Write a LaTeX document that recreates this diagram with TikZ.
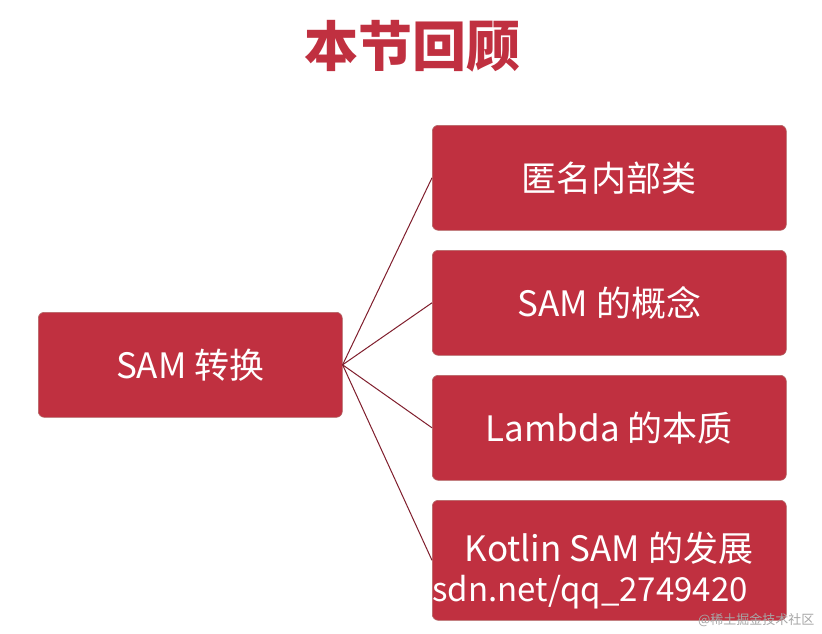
\documentclass[tikz,border=0pt]{standalone}
\usepackage{fontspec}
\setmainfont{Noto Sans CJK SC}
\newfontfamily\cjk{Noto Sans CJK SC}
\begin{document}
\begin{tikzpicture}[x=1pt,y=-1pt,
  box/.style={draw=red!50!black!60,line width=0.6pt,fill={rgb,255:red,192;green,48;blue,64},rounded corners=6pt,text=white,font=\cjk\fontsize{35}{40}\selectfont,anchor=north west,inner sep=0pt},
  link/.style={draw={rgb,255:red,128;green,30;blue,45},line width=1pt}]
\useasboundingbox (0,0) rectangle (822,633);
\fill[white] (0,0) rectangle (822,633);
\node[font=\cjk\bfseries\fontsize{54}{58}\selectfont,text={rgb,255:red,192;green,48;blue,64}] (title) at (412,46) {本节回顾};
\node[box,minimum width=304pt,minimum height=105pt] (sam) at (38,312) {SAM 转换};
\node[box,minimum width=354pt,minimum height=105pt] (b1) at (432,125) {匿名内部类};
\node[box,minimum width=354pt,minimum height=105pt] (b2) at (432,250) {SAM 的概念};
\node[box,minimum width=354pt,minimum height=105pt] (b3) at (432,375) {Lambda 的本质};
\node[box,minimum width=354pt,minimum height=120pt] (b4) at (432,500) {};
\node[font=\cjk\fontsize{35}{40}\selectfont,text=white] (b4t) at (609,548) {Kotlin SAM 的发展};
\begin{scope}
\clip (432,572) rectangle (786,633);
\node[font=\cjk\fontsize{33}{38}\selectfont,text=white,anchor=west] (wm) at (412,592) {csdn.net/qq\_2749420};
\end{scope}
\node[font=\cjk\fontsize{13}{15}\selectfont,text=gray!70,anchor=east] (wm2) at (818,620) {@稀土掘金技术社区};
\foreach \b in {b1,b2,b3,b4}{\draw[link] (sam.east) -- (\b.west);}
\end{tikzpicture}
\end{document}
